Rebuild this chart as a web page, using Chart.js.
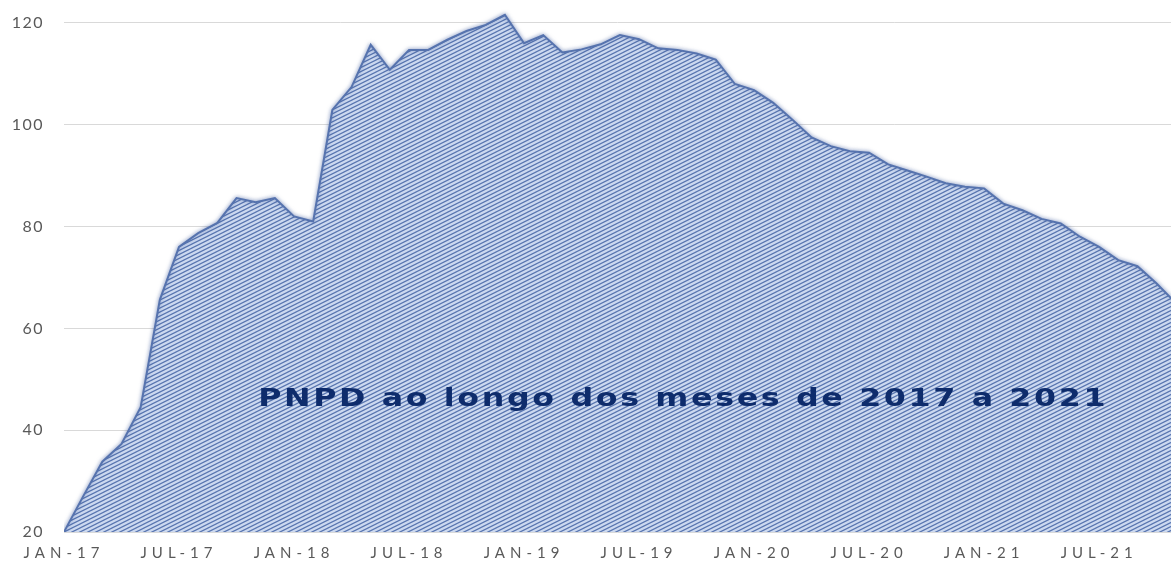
<!DOCTYPE html>
<html><head><meta charset="utf-8">
<script src="https://cdn.jsdelivr.net/npm/chart.js@4.4.1/dist/chart.umd.min.js"></script>
<style>html,body{margin:0;padding:0;background:#fff;overflow:hidden}#wrap{width:1171px;height:561px;position:relative}</style>
</head><body><div id="wrap"><canvas id="c"></canvas></div>
<script>
const monthNames = ['JAN','FEV','MAR','ABR','MAI','JUN','JUL','AGO','SET','OUT','NOV','DEZ'];
const years = ['17','18','19','20','21'];
const pnpd = [20, 27, 33.8, 37.3, 44.5, 65.6, 76, 78.7, 80.7, 85.6, 84.8, 85.6,
  82, 81, 102.9, 107.4, 115.7, 110.8, 114.7, 114.7, 116.7, 118.4, 119.6, 121.6,
  116, 117.6, 114.2, 114.8, 115.8, 117.6, 116.8, 115, 114.7, 114, 112.8, 108,
  106.8, 104.3, 101, 97.5, 95.8, 94.8, 94.5, 92.2, 91, 89.8, 88.5, 87.8,
  87.5, 84.5, 83.2, 81.5, 80.6, 78, 76, 73.4, 72.2, 68.8, 65];
const xTickLabels = ['JAN-17','JUL-17','JAN-18','JUL-18','JAN-19','JUL-19','JAN-20','JUL-20','JAN-21','JUL-21'];
const yTicks = [20, 40, 60, 80, 100, 120];
const chartTitle = 'PNPD ao longo dos meses de 2017 a 2021';

const categories = [];
years.forEach(y => monthNames.forEach(m => categories.push(m + '-' + y)));

function makePattern() {
  const c = document.createElement('canvas');
  c.width = 8; c.height = 4;
  const g = c.getContext('2d');
  g.fillStyle = '#ccd9f0';
  g.fillRect(0, 0, 8, 4);
  g.strokeStyle = '#5875b0';
  g.lineWidth = 1.25;
  for (const o of [-4, 0, 4]) {
    g.beginPath();
    g.moveTo(-1, 4.5 + o);
    g.lineTo(9, -0.5 + o);
    g.stroke();
  }
  return g.createPattern(c, 'repeat');
}

const shadowPlugin = {
  id: 'shadow',
  beforeDatasetsDraw(chart) {
    const ctx = chart.ctx;
    ctx.save();
    ctx.shadowColor = 'rgba(50,80,150,0.5)';
    ctx.shadowBlur = 4;
  },
  afterDatasetsDraw(chart) { chart.ctx.restore(); }
};

const spacingPlugin = {
  id: 'spacing',
  beforeDraw(chart) {
    const xs = chart.scales.x;
    if (xs && !xs._patched) {
      const orig = xs.drawLabels.bind(xs);
      xs.drawLabels = function (area) {
        const ctx = chart.ctx; ctx.save(); ctx.letterSpacing = '5px'; orig(area); ctx.restore();
      };
      xs._patched = true;
    }
    const ys = chart.scales.y;
    if (ys && !ys._patched) {
      const origY = ys.drawLabels.bind(ys);
      ys.drawLabels = function (area) {
        const ctx = chart.ctx; ctx.save(); ctx.letterSpacing = '1.5px'; origY(area); ctx.restore();
      };
      ys._patched = true;
    }
  }
};

const titlePlugin = {
  id: 'innerTitle',
  afterDatasetsDraw(chart) {
    const ctx = chart.ctx;
    const xs = chart.scales.x, ys = chart.scales.y;
    const cx = xs.getPixelForValue(32.3);
    const cy = ys.getPixelForValue(45.9);
    ctx.save();
    ctx.font = 'bold 24px "DejaVu Sans"';
    ctx.fillStyle = '#0e2c6c';
    ctx.textBaseline = 'middle';
    ctx.textAlign = 'left';
    ctx.letterSpacing = '2px';
    const w = ctx.measureText(chartTitle).width;
    const target = 850;
    const sx = target / w;
    ctx.translate(cx - target / 2, cy);
    ctx.scale(sx, 1);
    ctx.fillText(chartTitle, 0, 0);
    ctx.restore();
  }
};

function zeroPad(s) { s.paddingTop = 0; s.paddingBottom = 0; s.paddingLeft = 0; s.paddingRight = 0; }

const ctx = document.getElementById('c').getContext('2d');
new Chart(ctx, {
  type: 'line',
  data: {
    labels: categories.slice(0, pnpd.length),
    datasets: [{
      label: 'PNPD',
      data: pnpd.map((v, i) => ({ x: i, y: v })),
      backgroundColor: makePattern(),
      borderColor: '#5673ae',
      borderWidth: 2,
      fill: 'start',
      pointRadius: 0,
      tension: 0
    }]
  },
  options: {
    responsive: true,
    maintainAspectRatio: false,
    animation: false,
    layout: { padding: 0 },
    plugins: { legend: { display: false }, tooltip: { enabled: false } },
    scales: {
      x: {
        type: 'linear',
        min: 0,
        max: 57.75,
        afterFit(s) { s.height = 29; zeroPad(s); },
        afterBuildTicks(s) { s.ticks = xTickLabels.map((_, k) => ({ value: k * 6 })); },
        grid: { display: false, drawTicks: false },
        border: { display: false },
        ticks: {
          autoSkip: false,
          maxRotation: 0,
          padding: 12,
          color: '#595959',
          font: { family: 'Lato', size: 15 },
          callback: (v) => xTickLabels[Math.round(v / 6)]
        }
      },
      y: {
        min: 20,
        max: 124.5,
        afterFit(s) { s.width = 64; zeroPad(s); },
        afterBuildTicks(s) { s.ticks = yTicks.map(v => ({ value: v })); },
        grid: { color: '#d9d9d9', lineWidth: 1, drawTicks: false },
        border: { display: false },
        ticks: {
          padding: 20,
          color: '#595959',
          font: { family: 'Lato', size: 16 }
        }
      }
    }
  },
  plugins: [shadowPlugin, spacingPlugin, titlePlugin]
});
</script></body></html>
